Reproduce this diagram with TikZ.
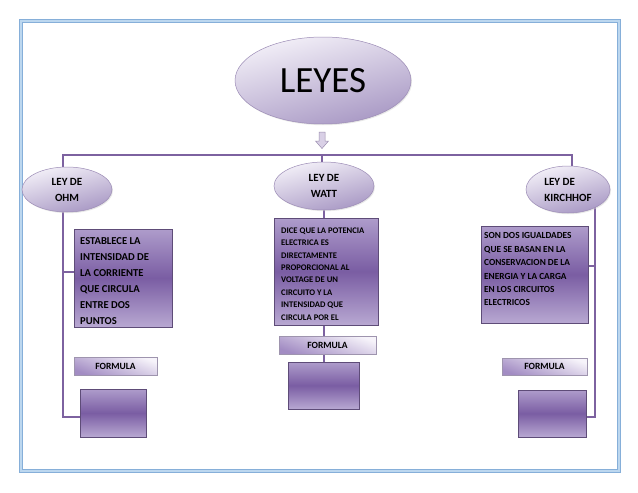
\documentclass[tikz,border=0pt]{standalone}
\usepackage{fontspec}
\setmainfont{Carlito}
\usetikzlibrary{shapes.geometric,shadows,backgrounds,calc}
\definecolor{connc}{HTML}{7D62A0}
\definecolor{boxline}{HTML}{5E4C78}
\definecolor{boxlt}{HTML}{AE9CCB}
\definecolor{boxdk}{HTML}{7A5DA3}
\definecolor{boxlt2}{HTML}{B8A8D2}
\definecolor{elllt}{HTML}{F3F0F8}
\definecolor{elldk}{HTML}{A898C4}
\definecolor{ellline}{HTML}{9C8CB6}
\definecolor{formlt}{HTML}{F6F3FA}
\definecolor{formdk}{HTML}{A28CC3}
\definecolor{frameout}{HTML}{86AFD9}
\definecolor{framein}{HTML}{BCD7EF}
\definecolor{arrfill}{HTML}{D9D0E6}
\definecolor{arrline}{HTML}{9A8CAE}
\begin{document}
\begin{tikzpicture}[x=1pt,y=-1pt,
  conn/.style={draw=connc, line width=1.7pt},
  lawell/.style={ellipse, draw=ellline, line width=0.5pt, top color=elllt, bottom color=elldk, shading angle=15, inner sep=0pt,
     drop shadow={shadow xshift=1pt, shadow yshift=-1.2pt, fill=black!18}},
  subell/.style={lawell, font=\fontsize{11}{16}\selectfont\bfseries},
  lawbox/.style={rectangle, draw=boxline, line width=0.6pt, top color=boxlt, bottom color=boxlt2, middle color=boxdk, inner sep=0pt,
     drop shadow={shadow xshift=1.3pt, shadow yshift=-1.3pt, fill=black!45}},
  formbox/.style={rectangle, draw=boxline!60, line width=0.4pt, top color=formlt, bottom color=formdk, shading angle=-20, inner sep=0pt,
     font=\fontsize{9.5}{10}\selectfont\bfseries,
     drop shadow={shadow xshift=1pt, shadow yshift=-1pt, fill=black!30}},
  lawtext/.style={anchor=north west, align=left, inner sep=0pt, text=black}
]
\useasboundingbox (0,0) rectangle (638,493);

% main ellipse
\node[lawell, minimum width=176, minimum height=87, font=\fontsize{37}{40}\selectfont] (leyes) at (323,80.5) {LEYES};

% down arrow
\draw[fill=arrfill, draw=arrline, line width=0.5pt] (319,132) -- (325,132) -- (325,141) -- (328.5,141) -- (322,148.5) -- (315.5,141) -- (319,141) -- cycle;

% sub ellipses
\node[subell, minimum width=90, minimum height=45, align=center] (ohm) at (67,189.5) {LEY DE\\OHM};
\node[subell, minimum width=100, minimum height=48, align=center] (wat) at (324,186) {LEY DE\\WATT};
\node[subell, minimum width=84, minimum height=47, align=left] (kir) at (568,189.5) {LEY DE\\KIRCHHOF};

% text boxes
\node[lawbox, minimum width=98, minimum height=98] (obox) at (123,278) {};
\node[lawbox, minimum width=104, minimum height=107] (wbox) at (326,271.5) {};
\node[lawbox, minimum width=107, minimum height=97] (kbox) at (534.5,274.5) {};

\node[lawtext, font=\fontsize{10.6}{16}\selectfont\bfseries] (otxt) at (80,237)
  {ESTABLECE LA\\INTENSIDAD DE\\LA CORRIENTE\\QUE CIRCULA\\ENTRE DOS\\PUNTOS};
\node[lawtext, font=\fontsize{8.6}{12.4}\selectfont\bfseries] (wtxt) at (281,227.5)
  {DICE QUE LA POTENCIA\\ELECTRICA ES\\DIRECTAMENTE\\PROPORCIONAL AL\\VOLTAGE DE UN\\CIRCUITO Y LA\\INTENSIDAD QUE\\CIRCULA POR EL};
\node[lawtext, font=\fontsize{9.3}{13.4}\selectfont\bfseries] (ktxt) at (484,232.5)
  {SON DOS IGUALDADES\\QUE SE BASAN EN LA\\CONSERVACION DE LA\\ENERGIA Y LA CARGA\\EN LOS CIRCUITOS\\ELECTRICOS};

% formula boxes
\node[formbox, minimum width=83, minimum height=18] (oform) at (115.5,366) {FORMULA};
\node[formbox, minimum width=97, minimum height=18] (wform) at (327.5,345) {FORMULA};
\node[formbox, minimum width=85, minimum height=17] (kform) at (544.5,366.5) {FORMULA};

% bottom boxes
\node[lawbox, minimum width=66, minimum height=48] (obot) at (113,413) {};
\node[lawbox, minimum width=71, minimum height=47] (wbot) at (323.5,385.5) {};
\node[lawbox, minimum width=68, minimum height=47] (kbot) at (552,413.5) {};

% connectors
\coordinate (tl) at (63,155);
\coordinate (tm) at (322,155);
\coordinate (tr) at (572,155);
\coordinate (kx) at (595,300);
\coordinate (oj) at ($(obox.west)+(0,-6)$);
\coordinate (ob) at ($(obot.west)+(0,4)$);
\coordinate (kj) at ($(kbox.east)+(0,-8.5)$);
\coordinate (kb) at ($(kbot.east)+(0,3.5)$);
\begin{pgfonlayer}{background}
\fill[white] (0,0) rectangle (638,493);
\draw[line width=4.5pt, draw=frameout] (21,21) rectangle (619,471);
\draw[line width=2pt, draw=framein] (21,21) rectangle (619,471);
\draw[conn] (tl |- ohm.center) -- (tl) -- (tr) -- (tr |- kir.center);
\draw[conn] (tm) -- (tm |- wat.center);
\draw[conn] (wat.center) -- (wat.center |- wbot.center);
\draw[conn] (tl |- ohm.center) -- (tl |- ob) -- (ob);
\draw[conn] (tl |- oj) -- (oj);
\draw[conn] (kx |- kir.center) -- (kx |- kb) -- (kb);
\draw[conn] (kx |- kj) -- (kj);
\end{pgfonlayer}
\end{tikzpicture}
\end{document}
